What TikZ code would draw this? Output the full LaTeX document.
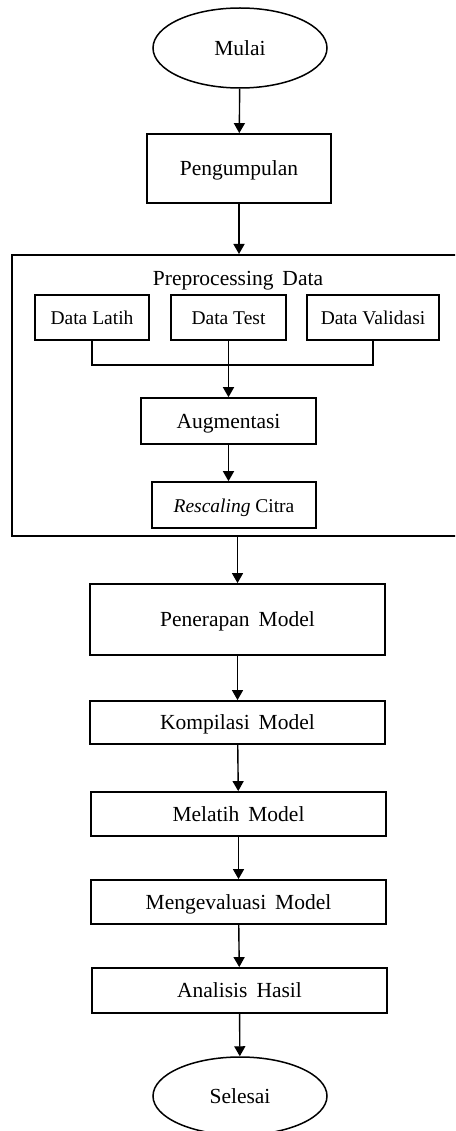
\documentclass[tikz,border=0pt]{standalone}
\usepackage{fontspec}
\setmainfont{Liberation Serif}
\usetikzlibrary{shapes.geometric,arrows.meta}
\begin{document}
\begin{tikzpicture}[x=1pt,y=-1pt,
  every node/.style={text height=16pt,text depth=1.5pt},
  mainbox/.style={draw,line width=1.8pt,rectangle,inner sep=0pt,font=\fontsize{21.5}{24}\selectfont},
  smallbox/.style={draw,line width=1.4pt,rectangle,inner sep=0pt,font=\fontsize{19.5}{22}\selectfont},
  term/.style={draw,line width=1.5pt,ellipse,inner sep=0pt,minimum width=174pt,font=\fontsize{21.5}{24}\selectfont},
  arr/.style={line width=1.4pt,-{Triangle[length=10pt,width=11pt]}},
  joinline/.style={line width=1.4pt}]
\clip (0,0) rectangle (455,1131);
\fill[white] (0,0) rectangle (455,1131);
\node[term,minimum height=80pt] (mulai) at (240,48) {Mulai};
\node[mainbox,minimum width=184pt,minimum height=69pt] (peng) at (239,168.5) {Pengumpulan};
\node[draw,line width=2pt,rectangle,inner sep=0pt,minimum width=458pt,minimum height=281pt] (pre) at (241,395.5) {};
\node[font=\fontsize{21.5}{24}\selectfont] (pretitle) at (238,278) {Preprocessing\ \,Data};
\node[smallbox,minimum width=114pt,minimum height=45pt] (dl) at (92,317.5) {Data Latih};
\node[smallbox,minimum width=115pt,minimum height=45pt] (dt) at (228.5,317.5) {Data Test};
\node[smallbox,minimum width=132pt,minimum height=45pt] (dv) at (373,317.5) {Data Validasi};
\node[mainbox,line width=1.6pt,minimum width=175pt,minimum height=46pt] (aug) at (228.5,421) {Augmentasi};
\node[smallbox,line width=1.6pt,minimum width=164pt,minimum height=46pt] (resc) at (234,505) {\textit{Rescaling} Citra};
\node[mainbox,minimum width=295pt,minimum height=71pt] (pen) at (237.5,619.5) {Penerapan\ \,Model};
\node[mainbox,minimum width=295pt,minimum height=43pt] (komp) at (237.5,722.5) {Kompilasi\ \,Model};
\node[mainbox,minimum width=295pt,minimum height=44pt] (mel) at (238.5,814) {Melatih\ \,Model};
\node[mainbox,minimum width=295pt,minimum height=44pt] (eval) at (238.5,902) {Mengevaluasi\ \,Model};
\node[mainbox,minimum width=295pt,minimum height=45pt] (anl) at (239.5,990.5) {Analisis\ \,Hasil};
\node[term,minimum height=78pt] (sel) at (240,1096) {Selesai};
\coordinate (j) at (228,365);
\draw[arr] (mulai) -- (peng);
\draw[arr] (peng.south) -- (peng.south |- pre.north);
\draw[joinline] (dl.south) |- (j) -| (dv.south);
\draw[arr] (dt.south) -- (dt.south |- aug.north);
\draw[arr] (aug.south) -- (aug.south |- resc.north);
\draw[arr] (pen.north |- pre.south) -- (pen.north);
\draw[arr] (pen) -- (komp);
\draw[arr] (komp) -- (mel);
\draw[arr] (mel) -- (eval);
\draw[arr] (eval) -- (anl);
\draw[arr] (anl) -- (sel);
\end{tikzpicture}
\end{document}
